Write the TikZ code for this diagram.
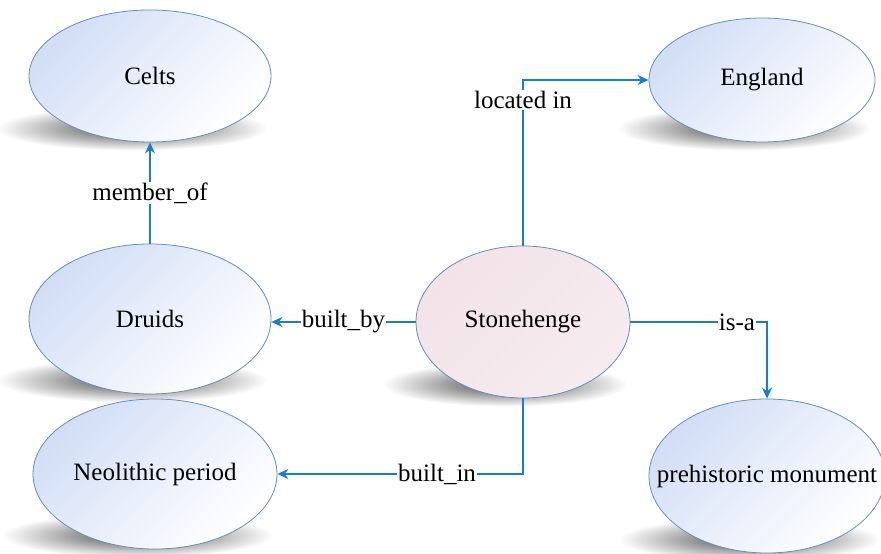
\documentclass[tikz,border=0pt]{standalone}
\usepackage{fontspec}
\setmainfont{Liberation Serif}
\usetikzlibrary{arrows.meta,shapes.geometric,backgrounds,fadings}
\definecolor{linkblue}{RGB}{25,125,215}
\definecolor{rimblue}{RGB}{105,140,190}
\definecolor{nodeblue}{RGB}{210,222,246}
\definecolor{stonepink}{RGB}{242,227,232}
\pgfdeclareradialshading{shadowshade}{\pgfpointorigin}{color(0bp)=(white); color(8bp)=(white!75!black); color(25bp)=(black); color(50bp)=(black)}
\pgfdeclarefading{shadowfade}{\pgfuseshading{shadowshade}}

\begin{document}
\begin{tikzpicture}[x=1pt,y=1pt,
    concept/.style={ellipse, draw=rimblue, line width=0.8pt, left color=nodeblue, right color=white, shading angle=45, inner sep=0pt, font=\fontsize{25}{30}\selectfont},
    link/.style={draw=linkblue, line width=1.5pt, -{Stealth[length=11pt,width=10pt]}},
    rel/.style={fill=white, inner sep=1pt, font=\fontsize{25}{30}\selectfont}]
    \useasboundingbox (0,0) rectangle (881,554);

    \node[concept, minimum width=242, minimum height=132] (celts) at (150,478) {Celts};
    \node[concept, minimum width=226, minimum height=124] (england) at (762,474) {England};
    \node[concept, minimum width=242, minimum height=150] (druids) at (150,235) {Druids};
    \node[concept, minimum width=214, minimum height=152, left color=stonepink, right color=stonepink!70!white, shading angle=45] (stone) at (523,232) {Stonehenge};
    \node[concept, minimum width=244, minimum height=150] (neo) at (155,80) {Neolithic period};
    \node[concept, minimum width=236, minimum height=154, inner xsep=-32pt] (prehist) at (767,78) {prehistoric monument};

    \begin{scope}[on background layer]
        \foreach \n/\r in {celts/135,england/126,druids/135,stone/122,neo/135,prehist/130}
            \fill[black!65, path fading=shadowfade] ([xshift=-18pt,yshift=14pt]\n.south) ellipse (\r pt and 22pt);
    \end{scope}

    \draw[link] (druids.north) -- node[rel]{member\_of} (celts.south);
    \draw[link] (stone.west) -- node[rel]{built\_by} (stone.west -| druids.east);
    \draw[link] (stone.north) |- node[rel,pos=0.44]{located in} (england.west);
    \draw[link] (stone.east) -| node[rel,pos=0.39]{is-a} (prehist.north);
    \draw[link] (stone.south) |- node[rel,pos=0.675]{built\_in} (neo.east);
\end{tikzpicture}
\end{document}
